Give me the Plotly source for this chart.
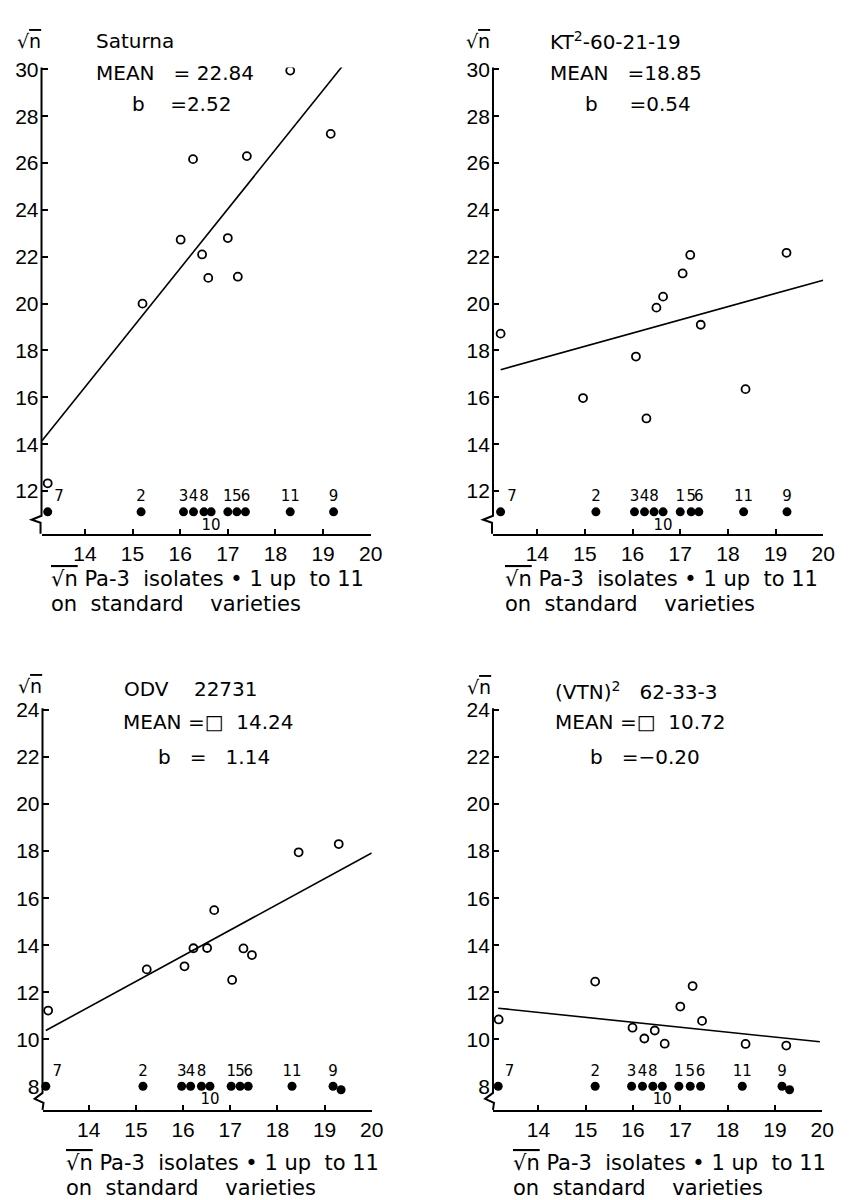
import plotly.graph_objects as go

# ---------------- data ----------------
iso_labels = ["1", "2", "3", "4", "5", "6", "7", "8", "9", "10", "11"]
x_ticks = [14, 15, 16, 17, 18, 19, 20]
y_ticks_top = [12, 14, 16, 18, 20, 22, 24, 26, 28, 30]
y_ticks_bottom = [8, 10, 12, 14, 16, 18, 20, 22, 24]

# Saturna
sat_x = [17.00, 15.21, 16.01, 16.27, 17.21, 17.40, 13.22, 16.46, 19.16, 16.59, 18.31]
sat_y = [22.80, 20.00, 22.73, 26.17, 21.15, 26.30, 12.33, 22.10, 27.25, 21.10, 29.95]
sat_dot_x = [17.00, 15.18, 16.07, 16.28, 17.19, 17.37, 13.22, 16.50, 19.22, 16.65, 18.31]
sat_dot_y = [11.11] * 11
sat_fit_x = [13.10, 19.42]
sat_fit_y = [14.15, 30.18]

# KT2-60-21-19
kt_x = [17.05, 14.96, 16.07, 16.29, 17.21, 17.43, 13.23, 16.50, 19.23, 16.64, 18.37]
kt_y = [21.29, 15.97, 17.74, 15.10, 22.08, 19.10, 18.72, 19.83, 22.17, 20.30, 16.35]
kt_dot_x = [17.00, 15.23, 16.04, 16.25, 17.23, 17.39, 13.23, 16.45, 19.24, 16.64, 18.33]
kt_dot_y = [11.11] * 11
kt_fit_x = [13.23, 20.00]
kt_fit_y = [17.18, 21.00]

# ODV 22731
odv_x = [17.04, 15.23, 16.03, 16.22, 17.28, 17.46, 13.14, 16.51, 19.30, 16.66, 18.45]
odv_y = [12.52, 12.97, 13.10, 13.87, 13.86, 13.58, 11.22, 13.88, 18.30, 15.49, 17.95]
odv_dot_x = [17.02, 15.15, 15.97, 16.16, 17.21, 17.38, 13.09, 16.39, 19.18, 16.57, 18.31]
odv_dot_y = [8.00] * 11
odv_extra_x = [19.35]
odv_extra_y = [7.85]
odv_fit_x = [13.09, 20.00]
odv_fit_y = [10.37, 17.92]

# (VTN)2 62-33-3
vtn_x = [17.00, 15.20, 15.99, 16.24, 17.26, 17.46, 13.16, 16.46, 19.24, 16.67, 18.38]
vtn_y = [11.39, 12.45, 10.49, 10.03, 12.26, 10.78, 10.84, 10.37, 9.73, 9.81, 9.80]
vtn_dot_x = [16.97, 15.20, 15.97, 16.20, 17.21, 17.43, 13.15, 16.42, 19.15, 16.62, 18.31]
vtn_dot_y = [8.00] * 11
vtn_extra_x = [19.31]
vtn_extra_y = [7.85]
vtn_fit_x = [13.15, 19.95]
vtn_fit_y = [11.32, 9.89]

# ---------------- layout helpers ----------------
# the page body has an 8px margin, so the figure is placed 8px in and sized to fit
OFF = 8
W, H = 849 - OFF, 1200 - OFF
TICKFONT = "Liberation Sans, Arial, DejaVu Sans, sans-serif"
FONT = "DejaVu Sans, Liberation Sans, sans-serif"
NB = "\u00a0"
OVER = "<span style='text-decoration:overline'>{}</span>"


def px(x):
    return (x - OFF) / W


def py(y):
    return 1 - (y - OFF) / H


# pixel boxes (in reference-picture pixels) of each plot area: (left, right, top, bottom)
panels = [
    dict(box=(42, 376, 58, 528), xr=[13.09, 20.0], yr=[10.18, 30.08], yt=y_ticks_top),
    dict(box=(500, 835, 58, 528), xr=[13.07, 20.0], yr=[10.18, 30.08], yt=y_ticks_top),
    dict(box=(43, 377, 704, 1109), xr=[13.02, 20.0], yr=[7.0, 24.08], yt=y_ticks_bottom),
    dict(box=(500, 834, 704, 1109), xr=[13.04, 20.0], yr=[7.0, 24.08], yt=y_ticks_bottom),
]

series = [
    (sat_x, sat_y, sat_dot_x, sat_dot_y, sat_fit_x, sat_fit_y, None, None),
    (kt_x, kt_y, kt_dot_x, kt_dot_y, kt_fit_x, kt_fit_y, None, None),
    (odv_x, odv_y, odv_dot_x, odv_dot_y, odv_fit_x, odv_fit_y, odv_extra_x, odv_extra_y),
    (vtn_x, vtn_y, vtn_dot_x, vtn_dot_y, vtn_fit_x, vtn_fit_y, vtn_extra_x, vtn_extra_y),
]

label_pos = []
for lab in iso_labels:
    if lab == "10":
        label_pos.append("bottom center")
    elif lab == "7":
        label_pos.append("top right")
    else:
        label_pos.append("top center")

fig = go.Figure()
layout = dict(
    width=W, height=H, margin=dict(l=0, r=0, t=0, b=0),
    paper_bgcolor="white", plot_bgcolor="white", showlegend=False,
    font=dict(family=FONT, color="black"),
)

shapes = []
for i, (p, s) in enumerate(zip(panels, series)):
    n = "" if i == 0 else str(i + 1)
    xa, ya = "x" + n, "y" + n
    l, r, t, b = p["box"]
    ox, oy, dx, dy, fx, fy, ex, ey = s
    fig.add_trace(go.Scatter(x=fx, y=fy, mode="lines", xaxis=xa, yaxis=ya,
                             line=dict(color="black", width=1.6), hoverinfo="skip"))
    fig.add_trace(go.Scatter(x=ox, y=oy, mode="markers", xaxis=xa, yaxis=ya,
                             marker=dict(symbol="circle-open", size=8, color="black",
                                         line=dict(width=1.8, color="black"))))
    fig.add_trace(go.Scatter(x=dx, y=dy, mode="markers+text", xaxis=xa, yaxis=ya,
                             text=iso_labels, textposition=label_pos,
                             textfont=dict(size=15, family=FONT, color="black"),
                             marker=dict(symbol="circle", size=9, color="black"),
                             cliponaxis=False))
    if ex is not None:
        fig.add_trace(go.Scatter(x=ex, y=ey, mode="markers", xaxis=xa, yaxis=ya,
                                 marker=dict(symbol="circle", size=9, color="black"),
                                 cliponaxis=False))
    layout["xaxis" + n] = dict(
        domain=[px(l), px(r)], range=p["xr"], anchor=ya,
        tickvals=x_ticks, ticks="inside", ticklen=5, tickwidth=1.5, tickcolor="black",
        showline=True, linecolor="black", linewidth=2, showgrid=False, zeroline=False,
        tickfont=dict(size=21, family=TICKFONT, color="black"), ticklabelstandoff=0,
    )
    layout["yaxis" + n] = dict(
        domain=[py(b), py(t)], range=p["yr"], anchor=xa,
        tickvals=p["yt"], ticks="inside", ticklen=6, tickwidth=1.5, tickcolor="black",
        showline=False, showgrid=False, zeroline=False,
        tickfont=dict(size=21, family=TICKFONT, color="black"), ticklabelstandoff=2,
    )
    # y axis line with a break (zig-zag) near the bottom
    if i < 2:
        pts = [(l, t), (l, b - 18), (l - 10, b - 14), (l - 1, b - 11), (l - 1, b)]
    else:
        pts = [(l, t), (l, b - 17), (l - 8, b - 11), (l + 1, b - 7), (l, b)]
    path = "M " + " L ".join(f"{px(a):.5f},{py(c):.5f}" for a, c in pts)
    shapes.append(dict(type="path", path=path, xref="paper", yref="paper",
                       line=dict(color="black", width=2)))

layout["shapes"] = shapes

ann = []


def txt(x, y, s, size=20, anchor="left"):
    ann.append(dict(x=px(x), y=py(y), xref="paper", yref="paper", text=s,
                    showarrow=False, xanchor=anchor, yanchor="middle",
                    font=dict(size=size, family=FONT, color="black")))


# y-axis labels
for (x0, y0) in [(29, 31), (485, 31), (30, 682), (486, 683)]:
    txt(x0, y0, "√" + OVER.format("n"), 19, "center")

# panel headers
txt(95, 31, "Saturna", 20)
txt(95, 63, "MEAN" + NB * 3 + "= 22.84", 20)
txt(132, 95, "b" + NB * 4 + "=2.52", 20)

txt(556, 31, "KT<sup>2</sup>-60-21-19", 20)
txt(556, 63, "MEAN" + NB * 3 + "=18.85", 20)
txt(591, 95, "b" + NB * 5 + "=0.54", 20)

txt(124, 685, "ODV" + NB * 4 + "22731", 20)
txt(123, 718, "MEAN" + NB + "=□" + NB * 2 + "14.24", 20)
txt(158, 753, "b" + NB * 3 + "=" + NB * 3 + "1.14", 20)

txt(561, 687, "(VTN)<sup>2</sup>" + NB * 3 + "62-33-3", 20)
txt(561, 718, "MEAN" + NB + "=□" + NB * 2 + "10.72", 20)
txt(596, 753, "b" + NB * 3 + "=−0.20", 20)

# x-axis titles
line1 = (OVER.format("√n") + NB + "Pa-3" + NB * 2 + "isolates" + NB + "•" + NB + "1"
         + NB + "up" + NB * 2 + "to" + NB + "11")
line2 = "on" + NB * 2 + "standard" + NB * 4 + "varieties"
for (x0, y1, y2) in [(50, 574, 599), (510, 574, 599), (65, 1163, 1188), (518, 1163, 1188)]:
    txt(x0, y1, line1, 21)
    txt(x0, y2, line2, 21)

layout["annotations"] = ann
fig.update_layout(**layout)
fig.write_html("out.html")
